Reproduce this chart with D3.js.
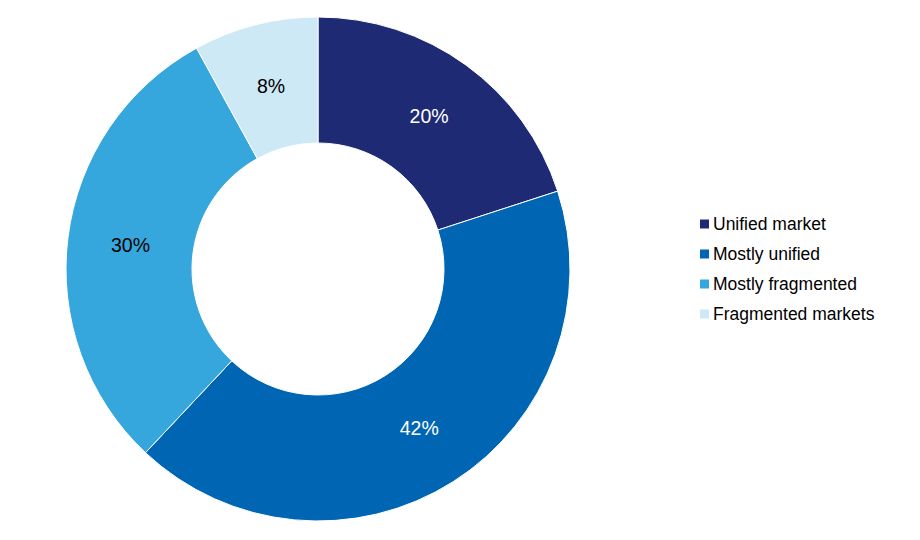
<!DOCTYPE html>
<html>
<head>
<meta charset="utf-8">
<script src="https://cdn.jsdelivr.net/npm/d3@7"></script>
<style>
  body { margin: 0; background: #fff; }
  svg { font-family: "Liberation Sans", Arial, sans-serif; }
</style>
</head>
<body>
<svg id="donut"></svg>
<script>
const categories = ["Unified market", "Mostly unified", "Mostly fragmented", "Fragmented markets"];
const shares = [20, 42, 30, 8];
const colors = ["#1f2a74", "#0066b3", "#36a7dd", "#cde9f5"];
const labelColors = ["#ffffff", "#ffffff", "#000000", "#000000"];

function drawDonut(width, height) {
  const svg = d3.select('#donut')
    .attr('width', width)
    .attr('height', height);

  const cx = 318, cy = 269;
  const outer = 252, inner = 126;

  const data = categories.map((c, i) => ({ name: c, value: shares[i], color: colors[i], label: labelColors[i] }));

  const pie = d3.pie()
    .value(d => d.value)
    .sort(null);

  const arc = d3.arc()
    .innerRadius(inner)
    .outerRadius(outer);

  const chart = svg.append('g')
    .attr('transform', `translate(${cx}, ${cy})`);

  const slices = chart.selectAll('g.slice')
    .data(pie(data))
    .enter()
    .append('g')
    .attr('class', 'slice');

  slices.append('path')
    .attr('d', arc)
    .attr('fill', d => d.data.color)
    .attr('stroke', '#fff')
    .attr('stroke-width', 1);

  slices.append('text')
    .attr('transform', d => `translate(${arc.centroid(d)})`)
    .attr('text-anchor', 'middle')
    .attr('dy', '0.35em')
    .attr('font-size', 19.5)
    .attr('fill', d => d.data.label)
    .text(d => `${d.data.value}%`);

  // legend
  const legend = svg.append('g')
    .attr('transform', 'translate(700, 224)');

  const items = legend.selectAll('g')
    .data(data)
    .enter()
    .append('g')
    .attr('transform', (d, i) => `translate(0, ${i * 30})`);

  items.append('rect')
    .attr('x', 0)
    .attr('y', -4.5)
    .attr('width', 9)
    .attr('height', 9)
    .attr('fill', d => d.color);

  items.append('text')
    .attr('x', 13)
    .attr('dy', '0.35em')
    .attr('font-size', 17.5)
    .attr('fill', '#000')
    .text(d => d.name);
}

drawDonut(920, 540);
</script>
</body>
</html>
